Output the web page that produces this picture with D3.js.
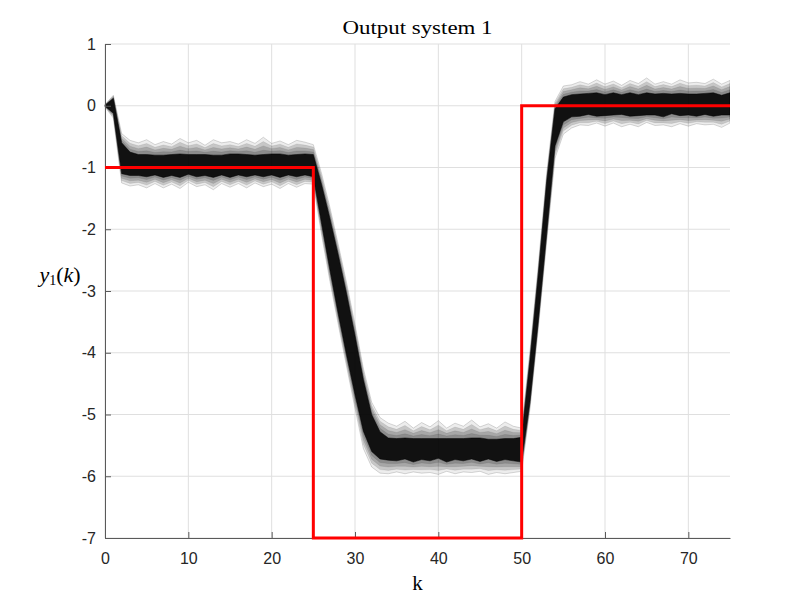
<!DOCTYPE html>
<html lang="en">
<head>
  <meta charset="UTF-8">
  <title>Output system 1</title>
  <style>
    body { margin: 0; background: #ffffff; }
    svg { background-color: #ffffff; }
    .tick text { font-family: "Liberation Sans", Arial, sans-serif; font-size: 16px; fill: #262626; }
  </style>
  <script type="text/javascript" src="https://d3js.org/d3.v7.min.js"></script>
</head>
<body>
<script type="text/javascript">

  // sample index k
  var kVals = [0,1,2,3,4,5,6,7,8,9,10,11,12,13,14,15,16,17,18,19,20,21,22,23,24,25,
    26,27,28,29,30,31,32,33,34,35,36,37,38,39,40,41,42,43,44,45,46,47,48,49,50,
    51,52,53,54,55,56,57,58,59,60,61,62,63,64,65,66,67,68,69,70,71,72,73,74,75];

  // centre of the bundle of output trajectories
  var meanY = [0, 0.0, -0.85, -0.94, -0.96, -0.97, -0.96, -0.98, -0.96, -0.97, -0.95,
    -0.97, -0.96, -0.98, -0.96, -0.97, -0.95, -0.97, -0.96, -0.97, -0.95, -0.97, -0.96,
    -0.97, -0.95, -0.97, -1.6, -2.25, -2.9, -3.55, -4.2, -4.85, -5.3, -5.5, -5.56,
    -5.57, -5.55, -5.58, -5.56, -5.57, -5.55, -5.58, -5.56, -5.57, -5.55, -5.57, -5.56,
    -5.58, -5.56, -5.57, -5.57, -4.45, -3.1, -1.65, -0.35, -0.06, 0.0,
    0.01, 0.03, 0.02, 0.01, 0.03, 0.02, 0.02, 0.01, 0.03, 0.02, 0.01, 0.03, 0.02, 0.02,
    0.01, 0.03, 0.02, 0.01, 0.03];

  // half width of the dense core of the bundle
  var coreSpread = [0.01, 0.12, 0.25, 0.19, 0.17, 0.18, 0.16, 0.18, 0.17, 0.19, 0.16,
    0.18, 0.17, 0.18, 0.16, 0.19, 0.17, 0.18, 0.16, 0.18, 0.17, 0.19, 0.16, 0.18, 0.17,
    0.18, 0.32, 0.42, 0.48, 0.5, 0.48, 0.42, 0.3, 0.22, 0.18,
    0.18, 0.17, 0.19, 0.17, 0.18, 0.16, 0.19, 0.17, 0.18, 0.17, 0.19, 0.16, 0.18, 0.17,
    0.18, 0.2, 0.34, 0.38, 0.42, 0.3, 0.2, 0.18,
    0.18, 0.17, 0.19, 0.17, 0.18, 0.16, 0.19, 0.17, 0.18, 0.17, 0.19, 0.16, 0.18, 0.17,
    0.18, 0.17, 0.19, 0.16, 0.18];

  // outermost faint traces above / below the centre
  var outerUp = [0.02, 0.17, 0.4, 0.38, 0.36, 0.42, 0.33, 0.4, 0.34, 0.44, 0.35, 0.41,
    0.32, 0.43, 0.36, 0.39, 0.33, 0.42, 0.35, 0.46, 0.34, 0.4, 0.33, 0.41, 0.36, 0.34,
    0.5, 0.6, 0.65, 0.68, 0.66, 0.6, 0.5, 0.45,
    0.42, 0.38, 0.44, 0.36, 0.43, 0.37, 0.45, 0.36, 0.42, 0.38, 0.46, 0.37, 0.41, 0.36,
    0.44, 0.38, 0.35, 0.48, 0.52, 0.55, 0.42, 0.38,
    0.34, 0.38, 0.32, 0.4, 0.34, 0.37, 0.31, 0.39, 0.35, 0.42, 0.33, 0.38, 0.32, 0.4,
    0.35, 0.37, 0.33, 0.41, 0.34, 0.38];

  var outerDn = [0.02, 0.2, 0.4, 0.36, 0.32, 0.36, 0.3, 0.35, 0.31, 0.37, 0.29, 0.34,
    0.32, 0.38, 0.3, 0.35, 0.31, 0.36, 0.29, 0.34, 0.32, 0.37, 0.3, 0.35, 0.31, 0.3,
    0.5, 0.6, 0.65, 0.68, 0.7, 0.7, 0.55, 0.45,
    0.4, 0.36, 0.41, 0.35, 0.39, 0.37, 0.42, 0.34, 0.4, 0.36, 0.39, 0.35, 0.41, 0.36,
    0.4, 0.37, 0.35, 0.45, 0.5, 0.55, 0.5, 0.4,
    0.36, 0.32, 0.35, 0.3, 0.34, 0.31, 0.36, 0.32, 0.35, 0.3, 0.34, 0.32, 0.37, 0.31,
    0.35, 0.3, 0.34, 0.32, 0.36, 0.31];

  // reference signal (held from each k to the next)
  var refY = [-1,-1,-1,-1,-1,-1,-1,-1,-1,-1,-1,-1,-1,-1,-1,-1,-1,-1,-1,-1,-1,-1,-1,-1,-1,
    -7,-7,-7,-7,-7,-7,-7,-7,-7,-7,-7,-7,-7,-7,-7,-7,-7,-7,-7,-7,-7,-7,-7,-7,-7,
    0,0,0,0,0,0,0,0,0,0,0,0,0,0,0,0,0,0,0,0,0,0,0,0,0,0];

  var xTicks = [0, 10, 20, 30, 40, 50, 60, 70];
  var yTicks = [1, 0, -1, -2, -3, -4, -5, -6, -7];

  var width = 806, height = 604;
  var plotLeft = 105, plotRight = 730, plotTop = 44, plotBottom = 538;

  var svg = d3.select("body")
    .append("svg")
    .attr("width", width)
    .attr("height", height);

  var x = d3.scaleLinear().domain([0, 75]).range([plotLeft, plotRight]);
  var y = d3.scaleLinear().domain([-7, 1]).range([plotBottom, plotTop]);

  var pts = kVals.map(function(k, i) {
    return {k: k, m: meanY[i], c: coreSpread[i], up: outerUp[i], dn: outerDn[i], r: refY[i]};
  });

  svg.append("defs").append("clipPath")
    .attr("id", "plot-clip")
    .append("rect")
    .attr("x", plotLeft - 2).attr("y", plotTop)
    .attr("width", plotRight - plotLeft + 2).attr("height", plotBottom - plotTop);

  // grid
  var grid = svg.append("g").attr("id", "grid");
  grid.selectAll("line.gx").data(xTicks).enter()
    .append("line")
    .attr("x1", function(d) { return x(d); })
    .attr("x2", function(d) { return x(d); })
    .attr("y1", plotTop).attr("y2", plotBottom)
    .attr("stroke", "#dfdfdf").attr("stroke-width", 1);
  grid.selectAll("line.gy").data(yTicks).enter()
    .append("line")
    .attr("x1", plotLeft).attr("x2", plotRight)
    .attr("y1", function(d) { return y(d); })
    .attr("y2", function(d) { return y(d); })
    .attr("stroke", "#dfdfdf").attr("stroke-width", 1);

  var plot_area = svg.append("g")
    .attr("id", "plot-area")
    .attr("clip-path", "url(#plot-clip)");

  // soft edge of the bundle: nested bands from the core out to the faintest traces
  var shells = [1, 0.75, 0.5, 0.25];

  shells.forEach(function(t, j) {
    var band = d3.area()
      .x(function(d) { return x(d.k); })
      .y0(function(d) { return y(d.m - (d.c + t * (d.dn - d.c))); })
      .y1(function(d) { return y(d.m + (d.c + t * (d.up - d.c))); });

    plot_area.append("path")
      .datum(pts)
      .attr("d", band)
      .attr("fill", "#000000")
      .attr("fill-opacity", j === 0 ? 0.07 : 0.16)
      .attr("stroke", "#000000")
      .attr("stroke-opacity", j === 0 ? 0.22 : 0.1)
      .attr("stroke-width", 0.7);
  });

  // dense core
  var coreArea = d3.area()
    .x(function(d) { return x(d.k); })
    .y0(function(d) { return y(d.m - d.c); })
    .y1(function(d) { return y(d.m + d.c); });

  plot_area.append("path")
    .datum(pts)
    .attr("d", coreArea)
    .attr("fill", "#000000")
    .attr("fill-opacity", 0.88)
    .attr("stroke", "#000000")
    .attr("stroke-opacity", 0.5)
    .attr("stroke-width", 1);

  // axes (ticks point inwards, no box)
  var xAxis = d3.axisBottom(x).tickValues(xTicks).tickSizeInner(-6).tickSizeOuter(0).tickPadding(15);
  var yAxis = d3.axisLeft(y).tickValues(yTicks).tickSizeInner(-6).tickSizeOuter(0).tickPadding(9)
    .tickFormat(d3.format("d"));

  var gx = svg.append("g")
    .attr("transform", "translate(0," + plotBottom + ")")
    .call(xAxis);
  var gy = svg.append("g")
    .attr("transform", "translate(" + plotLeft + ",0)")
    .call(yAxis);

  [gx, gy].forEach(function(g) {
    g.select(".domain").attr("stroke", "#5a5a5a").attr("stroke-width", 1);
    g.selectAll(".tick line").attr("stroke", "#5a5a5a").attr("stroke-width", 1);
  });
  gy.selectAll(".tick text").text(function(d) { return d < 0 ? "-" + (-d) : d; });

  // reference line
  var refLine = d3.line()
    .x(function(d) { return x(d.k); })
    .y(function(d) { return y(d.r); })
    .curve(d3.curveStepAfter);

  svg.append("path")
    .datum(pts)
    .attr("d", refLine)
    .attr("fill", "none")
    .attr("stroke", "#ff0000")
    .attr("stroke-width", 3);

  // labels
  svg.append("text")
    .attr("x", (plotLeft + plotRight) / 2)
    .attr("y", 34)
    .attr("text-anchor", "middle")
    .attr("font-family", "'Liberation Serif', 'DejaVu Serif', serif")
    .attr("font-size", 19)
    .attr("textLength", 150)
    .attr("lengthAdjust", "spacingAndGlyphs")
    .attr("fill", "#000000")
    .text("Output system 1");

  svg.append("text")
    .attr("x", (plotLeft + plotRight) / 2)
    .attr("y", 590)
    .attr("text-anchor", "middle")
    .attr("font-family", "'Liberation Serif', 'DejaVu Serif', serif")
    .attr("font-size", 21)
    .attr("fill", "#000000")
    .text("k");

  var yl = svg.append("text")
    .attr("x", 60)
    .attr("y", 282)
    .attr("text-anchor", "middle")
    .attr("font-family", "'Liberation Serif', 'DejaVu Serif', serif")
    .attr("font-size", 22)
    .attr("fill", "#000000");
  yl.append("tspan").attr("font-style", "italic").text("y");
  yl.append("tspan").attr("font-size", 14).attr("dy", 3).text("1");
  yl.append("tspan").attr("dy", -3).text("(");
  yl.append("tspan").attr("font-style", "italic").text("k");
  yl.append("tspan").text(")");

</script>
</body>
</html>
